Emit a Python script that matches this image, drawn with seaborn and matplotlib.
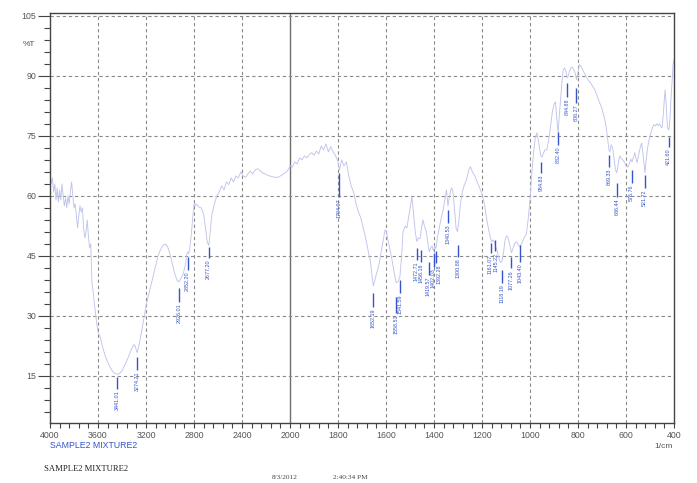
"""
FTIR spectrum of SAMPLE2 MIXTURE2, redrawn in Shimadzu-style layout.
Wavenumber axis is compressed 2:1 above 2000 1/cm, as on the instrument printout.
"""
import numpy as np
import pandas as pd
import matplotlib
matplotlib.use("Agg")
import matplotlib.pyplot as plt
import matplotlib.transforms as mtransforms
import seaborn as sns

SAMPLE_NAME = "SAMPLE2 MIXTURE2"
DATE_TEXT = "8/3/2012"
TIME_TEXT = "2:40:34 PM"

WAVENUMBER = [
    4000, 3990, 3980, 3970, 3960, 3950, 3940, 3930, 3920, 3910, 3900, 3890, 3880, 3870,
    3860, 3850, 3840, 3830, 3820, 3810, 3800, 3790, 3780, 3770, 3760, 3750, 3740, 3730,
    3720, 3710, 3700, 3690, 3680, 3670, 3660, 3650, 3640, 3630, 3610, 3600, 3580, 3560,
    3540, 3520, 3500, 3480, 3460, 3441, 3420, 3400, 3380, 3360, 3340, 3320, 3300, 3290,
    3274, 3260, 3240, 3220, 3200, 3180, 3160, 3140, 3120, 3100, 3080, 3060, 3040, 3020,
    3000, 2980, 2960, 2940, 2926, 2910, 2890, 2870, 2860, 2850, 2843, 2830, 2815, 2800,
    2790, 2780, 2760, 2740, 2720, 2700, 2690, 2677, 2665, 2650, 2630, 2610, 2590, 2570,
    2550, 2530, 2510, 2490, 2470, 2450, 2430, 2410, 2390, 2370, 2350, 2330, 2310, 2290,
    2270, 2250, 2230, 2210, 2190, 2170, 2150, 2130, 2110, 2090, 2070, 2050, 2030, 2010,
    2000, 1990, 1980, 1970, 1960, 1950, 1940, 1930, 1920, 1910, 1900, 1890, 1880, 1870,
    1860, 1850, 1840, 1830, 1820, 1810, 1800, 1794, 1785, 1775, 1765, 1755, 1745, 1735,
    1725, 1715, 1705, 1695, 1685, 1675, 1665, 1658, 1653, 1648, 1640, 1632, 1620, 1610,
    1604, 1598, 1592, 1585, 1575, 1565, 1558, 1550, 1542, 1535, 1529, 1520, 1513, 1505,
    1498, 1492, 1485, 1478, 1472, 1466, 1458, 1452, 1446, 1440, 1432, 1426, 1420, 1414,
    1408, 1403, 1397, 1392, 1386, 1378, 1370, 1362, 1355, 1348, 1342, 1335, 1328, 1322,
    1315, 1308, 1302, 1296, 1290, 1282, 1275, 1265, 1255, 1248, 1240, 1230, 1220, 1210,
    1200, 1190, 1180, 1172, 1165, 1160, 1154, 1148, 1143, 1136, 1128, 1122, 1116, 1110,
    1104, 1098, 1092, 1085, 1077, 1070, 1062, 1055, 1049, 1043, 1035, 1025, 1015, 1008,
    1000, 992, 985, 978, 971, 963, 955, 950, 945, 938, 930, 922, 915, 908,
    900, 894, 889, 883, 878, 872, 866, 862, 856, 850, 846, 842, 836, 830,
    824, 818, 812, 806, 800, 794, 788, 780, 772, 763, 755, 745, 738, 730,
    720, 710, 700, 690, 682, 676, 671, 667, 662, 656, 650, 645, 640, 636,
    630, 625, 619, 613, 607, 600, 592, 586, 580, 575, 570, 563, 557, 554,
    548, 541, 535, 530, 525, 521, 516, 510, 504, 498, 490, 484, 478, 472,
    466, 460, 454, 450, 445, 440, 437, 433, 428, 424, 420, 416, 412, 408,
    404, 400,
]

TRANSMITTANCE = [
    65.8, 63.0, 64.5, 61.0, 63.0, 59.0, 62.0, 58.5, 61.5, 59.0, 63.0, 60.0, 57.5, 59.5,
    57.0, 60.0, 58.0, 61.0, 63.5, 60.0, 57.0, 58.0, 55.0, 52.0, 55.0, 57.5, 56.0, 57.0,
    52.0, 49.5, 51.0, 54.0, 50.0, 47.0, 48.0, 38.0, 36.0, 33.0, 28.0, 26.0, 24.5, 22.0,
    20.0, 18.5, 17.2, 16.2, 15.6, 15.4, 15.6, 16.3, 17.5, 18.8, 20.2, 21.8, 22.8, 22.4,
    20.8, 22.5, 25.5, 29.0, 32.5, 35.0, 37.5, 40.0, 42.5, 45.0, 46.5, 47.6, 48.0, 47.3,
    45.5, 43.0, 40.5, 38.8, 38.5, 39.3, 40.5, 43.0, 45.5, 46.0, 45.6, 48.0, 53.0, 58.0,
    57.5, 58.0, 57.2, 57.0, 55.5, 51.0, 48.5, 47.6, 51.0, 55.5, 58.0, 60.0, 61.0, 62.5,
    61.5, 63.5, 62.8, 64.5, 63.5, 65.0, 64.5, 66.0, 65.0, 64.7, 65.5, 66.2, 65.5, 66.5,
    66.8, 66.3, 65.8, 65.5, 65.2, 65.0, 64.8, 64.7, 64.6, 64.8, 65.2, 65.6, 66.0, 66.8,
    67.5, 67.2, 68.5, 68.0, 69.5, 69.0, 70.0, 69.5, 70.3, 70.8, 70.2, 71.2, 70.5, 72.5,
    71.5, 73.0, 71.0, 72.3, 71.0, 70.0, 68.5, 66.5, 69.0, 67.5, 68.5, 65.0, 62.5, 61.0,
    58.0, 56.0, 54.5, 52.0, 49.5, 46.5, 43.5, 40.0, 37.5, 38.5, 40.5, 42.0, 46.0, 49.5,
    51.5, 51.0, 49.0, 47.0, 44.0, 40.5, 38.3, 38.6, 39.8, 45.0, 51.0, 52.5, 52.0, 55.0,
    57.5, 59.8, 55.5, 51.0, 48.6, 49.5, 49.3, 52.0, 54.0, 52.5, 51.0, 48.5, 46.0, 47.0,
    47.5, 46.3, 47.5, 46.8, 49.5, 52.0, 54.5, 56.5, 59.0, 61.5, 57.5, 60.0, 62.0, 61.5,
    57.0, 52.0, 51.0, 54.0, 58.0, 61.0, 62.5, 64.0, 66.5, 67.3, 66.0, 65.0, 63.5, 62.0,
    60.5, 58.0, 54.0, 51.5, 49.5, 48.5, 49.0, 48.5, 47.3, 46.0, 44.0, 43.3, 43.8, 46.0,
    49.0, 50.0, 49.7, 48.0, 45.8, 47.0, 48.3, 48.5, 47.8, 47.3, 48.0, 49.5, 50.5, 54.0,
    59.0, 66.0, 71.0, 74.5, 75.8, 73.0, 70.0, 69.7, 70.5, 71.5, 71.5, 74.0, 77.0, 80.5,
    83.0, 83.5, 80.0, 75.8, 80.0, 84.5, 89.0, 91.5, 92.0, 91.0, 89.5, 89.8, 91.0, 92.0,
    92.2, 91.5, 90.8, 89.0, 91.0, 92.8, 92.5, 91.5, 90.5, 89.5, 88.8, 88.0, 87.3, 86.5,
    85.0, 83.3, 81.8, 79.5, 77.0, 74.0, 71.5, 71.0, 72.8, 72.0, 69.5, 67.0, 65.8, 66.5,
    69.0, 70.0, 69.3, 69.0, 68.5, 67.5, 67.2, 68.0, 69.2, 68.5, 69.5, 70.8, 69.0, 68.3,
    70.0, 72.0, 73.2, 71.0, 68.0, 65.8, 69.0, 72.0, 74.0, 75.5, 77.0, 77.8, 77.5, 78.0,
    77.6, 78.0, 77.3, 77.0, 80.0, 84.5, 86.5, 83.0, 78.0, 76.5, 77.0, 80.0, 85.0, 88.5,
    93.0, 94.0,
]

# peak picks: position, top and bottom of the marker stroke (%T)
PEAK_WN = [
    3441.01, 3274.21, 2926.01, 2852.20, 2677.20, 1794.97, 1652.19, 1558.51, 1541.59,
    1472.71, 1456.18, 1419.57, 1402.03, 1392.28, 1340.53, 1300.88, 1161.07, 1145.22,
    1118.19, 1077.26, 1043.40, 954.83, 882.40, 844.88, 806.27, 669.33, 636.44, 576.76,
    521.72, 421.60,
]
PEAK_TOP = [
    14.8, 19.8, 37.0, 44.8, 47.3, 65.7, 35.7, 34.7, 39.0,
    47.0, 46.5, 43.6, 45.7, 46.1, 56.5, 47.7, 48.2, 49.0,
    41.5, 44.8, 47.7, 68.6, 76.1, 88.2, 86.9, 70.2, 63.2, 66.5,
    65.2, 74.8,
]
PEAK_BOTTOM = [
    11.8, 16.5, 33.5, 41.5, 44.5, 59.8, 32.2, 30.7, 35.7,
    44.0, 43.6, 40.2, 42.3, 43.2, 53.2, 44.8, 45.7, 46.1,
    38.2, 41.9, 43.6, 65.7, 72.7, 84.8, 83.2, 67.3, 59.8, 63.2,
    61.9, 72.3,
]
# small sideways nudges (points) for crowded labels
LABEL_NUDGE = {1472.71: -0.6, 1456.18: 0.6, 1419.57: -1.2, 1392.28: 2.0,
               1161.07: -0.6, 1145.22: 0.6}

X_LABELS = [4000, 3600, 3200, 2800, 2400, 2000, 1800, 1600, 1400, 1200, 1000, 800, 600, 400]
Y_LABELS = [15, 30, 45, 60, 75, 90, 105]


def _fwd(x):
    x = np.asarray(x, dtype=float)
    return np.where(x < 2000, x - 400, 1600 + (x - 2000) / 2)


def _inv(u):
    u = np.asarray(u, dtype=float)
    return np.where(u < 1600, u + 400, 2000 + 2 * (u - 1600))


sns.set_style("white")
plt.rcParams["font.family"] = ["Liberation Sans", "DejaVu Sans"]

W, H = 697, 483
fig = plt.figure(figsize=(W / 100, H / 100), dpi=100)
ax = fig.add_axes([50 / W, 1 - 422.7 / H, 624 / W, 410 / H])
ax.set_xscale("function", functions=(_fwd, _inv))

df = pd.DataFrame({"wn": WAVENUMBER, "T": TRANSMITTANCE})
sns.lineplot(data=df, x="wn", y="T", sort=False, color="#c0c4ec", lw=0.65, ax=ax)

blue = "#3454cc"
ax.vlines(PEAK_WN, PEAK_BOTTOM, PEAK_TOP, color=blue, lw=1.0)
for wn, bot in zip(PEAK_WN, PEAK_BOTTOM):
    tr = mtransforms.offset_copy(ax.transData, fig=fig, x=LABEL_NUDGE.get(wn, 0), y=0,
                                 units="points")
    ax.text(wn, bot - 0.4, f"{wn:.2f}", rotation=90, ha="center", va="top",
            fontsize=3.9, color=blue, transform=tr)

ax.set_xlim(4000, 400)
ax.set_ylim(3.3, 105.8)

# grid
grid_kw = dict(color="#8a8a8a", lw=0.8, ls=(0, (3, 2.5)), zorder=0)
for x in X_LABELS[1:-1]:
    if x == 2000:
        ax.axvline(x, color="#6e6e6e", lw=1.0, zorder=0)
    else:
        ax.axvline(x, **grid_kw)
for y in Y_LABELS:
    ax.axhline(y, **grid_kw)

ax.set_xticks(X_LABELS)
ax.set_xticklabels([str(v) for v in X_LABELS])
minor_x = [v for v in range(4000, 1999, -80)] + [v for v in range(2000, 399, -40)]
ax.set_xticks(minor_x, minor=True)
ax.set_yticks(Y_LABELS)
ax.set_yticks(np.arange(6, 105, 3), minor=True)

ax.tick_params(axis="x", which="both", direction="out", length=3.6, width=0.8,
               color="#444444", labelsize=6.3, labelcolor="#555555", pad=2.5, bottom=True)
ax.tick_params(axis="y", which="major", direction="out", length=8.5, width=0.8,
               color="#444444", labelsize=6.3, labelcolor="#555555", pad=1.5, left=True)
ax.tick_params(axis="y", which="minor", direction="out", length=4.3, width=0.8,
               color="#444444", left=True)
for s in ax.spines.values():
    s.set_color("#444444")
    s.set_linewidth(1.0)
ax.set_xlabel("")
ax.set_ylabel("")

fig.text(29 / W, 1 - 45 / H, "%T", ha="center", va="center", fontsize=6, color="#555555")
fig.text(664 / W, 1 - 446 / H, "1/cm", ha="center", va="center", fontsize=6, color="#555555")
fig.text(50 / W, 1 - 445 / H, SAMPLE_NAME, ha="left", va="center", fontsize=6.3, color=blue)
fig.text(44 / W, 1 - 469 / H, SAMPLE_NAME, ha="left", va="center", fontsize=6.2,
         family=["Liberation Serif", "DejaVu Serif"], color="#222222")
fig.text(272 / W, 1 - 477.5 / H, DATE_TEXT, ha="left", va="center", fontsize=5.3,
         family=["Liberation Serif", "DejaVu Serif"], color="#444444")
fig.text(333 / W, 1 - 477.5 / H, TIME_TEXT, ha="left", va="center", fontsize=5.3,
         family=["Liberation Serif", "DejaVu Serif"], color="#444444")

fig.savefig("out.png", dpi=100)
